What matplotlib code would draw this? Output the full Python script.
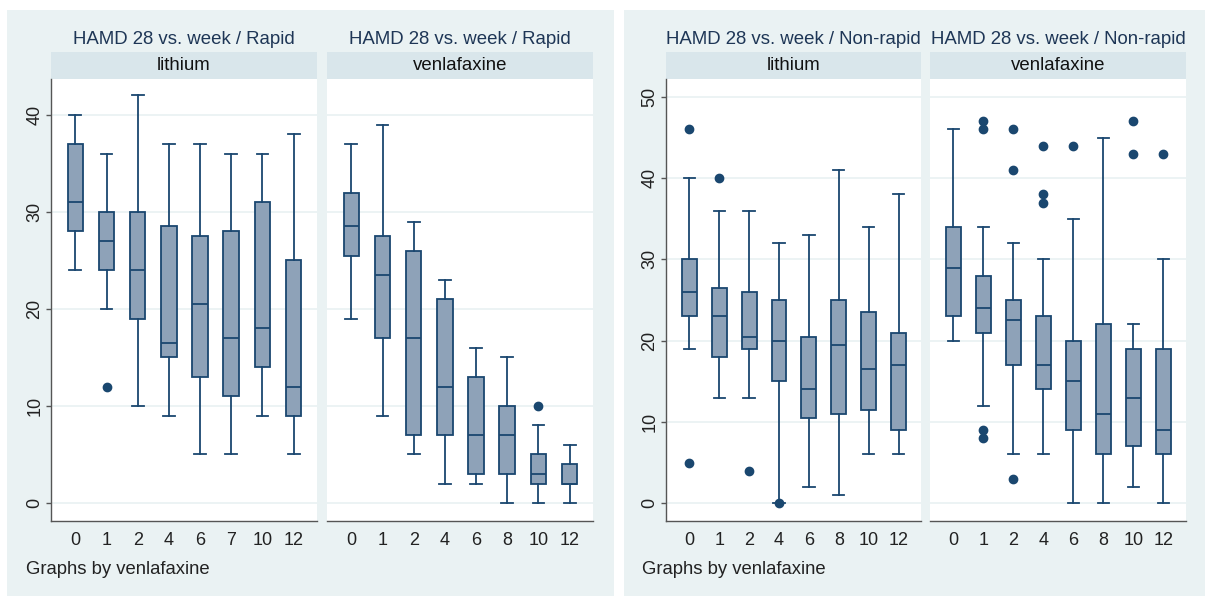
import matplotlib
matplotlib.use("Agg")
import matplotlib.pyplot as plt
from matplotlib.patches import Rectangle

plt.rcParams['font.family'] = ['Liberation Sans', 'DejaVu Sans']

# ---------------- data ----------------
weeks_rapid_li = ["0", "1", "2", "4", "6", "7", "10", "12"]
weeks_rapid_ve = ["0", "1", "2", "4", "6", "8", "10", "12"]
weeks_nonrapid = ["0", "1", "2", "4", "6", "8", "10", "12"]

# each: whisker low, q1, median, q3, whisker high
rapid_li_whislo = [24, 20, 10, 9, 5, 5, 9, 5]
rapid_li_q1 = [28, 24, 19, 15, 13, 11, 14, 9]
rapid_li_med = [31, 27, 24, 16.5, 20.5, 17, 18, 12]
rapid_li_q3 = [37, 30, 30, 28.5, 27.5, 28, 31, 25]
rapid_li_whishi = [40, 36, 42, 37, 37, 36, 36, 38]
rapid_li_out = [[], [12], [], [], [], [], [], []]

rapid_ve_whislo = [19, 9, 5, 2, 2, 0, 0, 0]
rapid_ve_q1 = [25.5, 17, 7, 7, 3, 3, 2, 2]
rapid_ve_med = [28.5, 23.5, 17, 12, 7, 7, 3, 2]
rapid_ve_q3 = [32, 27.5, 26, 21, 13, 10, 5, 4]
rapid_ve_whishi = [37, 39, 29, 23, 16, 15, 8, 6]
rapid_ve_out = [[], [], [], [], [], [], [10], []]

nonrapid_li_whislo = [19, 13, 13, 0, 2, 1, 6, 6]
nonrapid_li_q1 = [23, 18, 19, 15, 10.5, 11, 11.5, 9]
nonrapid_li_med = [26, 23, 20.5, 20, 14, 19.5, 16.5, 17]
nonrapid_li_q3 = [30, 26.5, 26, 25, 20.5, 25, 23.5, 21]
nonrapid_li_whishi = [40, 36, 36, 32, 33, 41, 34, 38]
nonrapid_li_out = [[46, 5], [40], [4], [0], [], [], [], []]

nonrapid_ve_whislo = [20, 12, 6, 6, 0, 0, 2, 0]
nonrapid_ve_q1 = [23, 21, 17, 14, 9, 6, 7, 6]
nonrapid_ve_med = [29, 24, 22.5, 17, 15, 11, 13, 9]
nonrapid_ve_q3 = [34, 28, 25, 23, 20, 22, 19, 19]
nonrapid_ve_whishi = [46, 34, 32, 30, 35, 45, 22, 30]
nonrapid_ve_out = [[], [47, 46, 9, 8], [46, 41, 3], [44, 38, 37], [44], [], [47, 43], [43]]

title_rapid = "HAMD 28 vs. week / Rapid"
title_nonrapid = "HAMD 28 vs. week / Non-rapid"
panel_labels = ["lithium", "venlafaxine"]
note = "Graphs by venlafaxine"

# ---------------- style ----------------
W, H = 1205, 596
BG = "#eaf2f3"
STRIP = "#d9e6eb"
FILL = "#8ea2b8"
EDGE = "#1a476f"
GRID = "#eaf2f3"
TITLE_C = "#1e3656"

fig = plt.figure(figsize=(W / 100, H / 100), dpi=100)
fig.patch.set_facecolor("white")


def fr(x0, y0, x1, y1):
    """pixel box (top-left origin) -> figure fraction rect"""
    return [x0 / W, 1 - y1 / H, (x1 - x0) / W, (y1 - y0) / H]


# outer backgrounds
for (x0, x1) in [(7, 614), (624, 1205)]:
    r = fr(x0, 10, x1, 596)
    fig.patches.append(Rectangle((r[0], r[1]), r[2], r[3], transform=fig.transFigure,
                                 facecolor=BG, edgecolor="none", zorder=-10))


def make_stats(lo, q1, med, q3, hi, out):
    return [dict(whislo=a, q1=b, med=c, q3=d, whishi=e, fliers=f)
            for a, b, c, d, e, f in zip(lo, q1, med, q3, hi, out)]


def draw_panel(x0, x1, ylim, yticks, stats, labels, title, strip_label, first):
    strip_top, plot_top, plot_bot = 52, 79, 521
    fig.text((x0 + x1) / 2 / W, 1 - 39 / H, title, ha="center", va="center",
             fontsize=13.4, color=TITLE_C)
    sax = fig.add_axes(fr(x0, strip_top, x1, plot_top))
    sax.set_facecolor(STRIP)
    sax.set_xticks([]); sax.set_yticks([])
    for s in sax.spines.values():
        s.set_visible(False)
    sax.text(0.5, 0.5, strip_label, ha="center", va="center", fontsize=13.4,
             color="#111111", transform=sax.transAxes)
    ax = fig.add_axes(fr(x0, plot_top, x1, plot_bot))
    ax.set_facecolor("white")
    n = len(stats)
    pos = list(range(n))
    ax.bxp(stats, positions=pos, widths=0.5, patch_artist=True, showfliers=True,
           boxprops=dict(facecolor=FILL, edgecolor=EDGE, linewidth=1.3),
           medianprops=dict(color=EDGE, linewidth=1.3),
           whiskerprops=dict(color=EDGE, linewidth=1.3),
           capprops=dict(color=EDGE, linewidth=1.3),
           capwidths=0.38,
           flierprops=dict(marker="o", markerfacecolor=EDGE, markeredgecolor=EDGE,
                           markersize=6, linestyle="none"))
    ax.set_xlim(-0.78, n - 1 + 0.75)
    ax.set_ylim(*ylim)
    ax.set_yticks(yticks)
    ax.yaxis.grid(True, color=GRID, linewidth=1.3)
    ax.set_axisbelow(True)
    ax.set_xticks(pos)
    ax.set_xticklabels(labels, fontsize=13, color="#222222")
    ax.tick_params(axis="x", length=0, pad=8)
    for side in ("top", "right"):
        ax.spines[side].set_visible(False)
    ax.spines["bottom"].set_color("#555555")
    ax.spines["bottom"].set_linewidth(1.0)
    if first:
        ax.spines["left"].set_color("#555555")
        ax.spines["left"].set_linewidth(1.0)
        ax.tick_params(axis="y", length=3.6, width=1, color="#555555", pad=2)
        ax.set_yticklabels([str(t) for t in yticks], fontsize=13, color="#222222",
                           rotation=90, va="center")
    else:
        ax.spines["left"].set_visible(False)
        ax.tick_params(axis="y", length=0, labelleft=False)
    return ax


rapid_li = make_stats(rapid_li_whislo, rapid_li_q1, rapid_li_med, rapid_li_q3,
                      rapid_li_whishi, rapid_li_out)
rapid_ve = make_stats(rapid_ve_whislo, rapid_ve_q1, rapid_ve_med, rapid_ve_q3,
                      rapid_ve_whishi, rapid_ve_out)
nonrapid_li = make_stats(nonrapid_li_whislo, nonrapid_li_q1, nonrapid_li_med, nonrapid_li_q3,
                         nonrapid_li_whishi, nonrapid_li_out)
nonrapid_ve = make_stats(nonrapid_ve_whislo, nonrapid_ve_q1, nonrapid_ve_med, nonrapid_ve_q3,
                         nonrapid_ve_whishi, nonrapid_ve_out)

yl_left = (-1.86, 43.7)
yl_right = (-2.2, 52.2)

draw_panel(51, 317, yl_left, [0, 10, 20, 30, 40], rapid_li, weeks_rapid_li,
           title_rapid, panel_labels[0], True)
draw_panel(327, 593, yl_left, [0, 10, 20, 30, 40], rapid_ve, weeks_rapid_ve,
           title_rapid, panel_labels[1], False)
draw_panel(666, 921, yl_right, [0, 10, 20, 30, 40, 50], nonrapid_li, weeks_nonrapid,
           title_nonrapid, panel_labels[0], True)
draw_panel(930, 1186, yl_right, [0, 10, 20, 30, 40, 50], nonrapid_ve, weeks_nonrapid,
           title_nonrapid, panel_labels[1], False)

fig.text(26 / W, 1 - 569 / H, note, ha="left", va="center", fontsize=13.3, color="#222222")
fig.text(642 / W, 1 - 569 / H, note, ha="left", va="center", fontsize=13.3, color="#222222")

fig.savefig("out.png", dpi=100, facecolor="white")
